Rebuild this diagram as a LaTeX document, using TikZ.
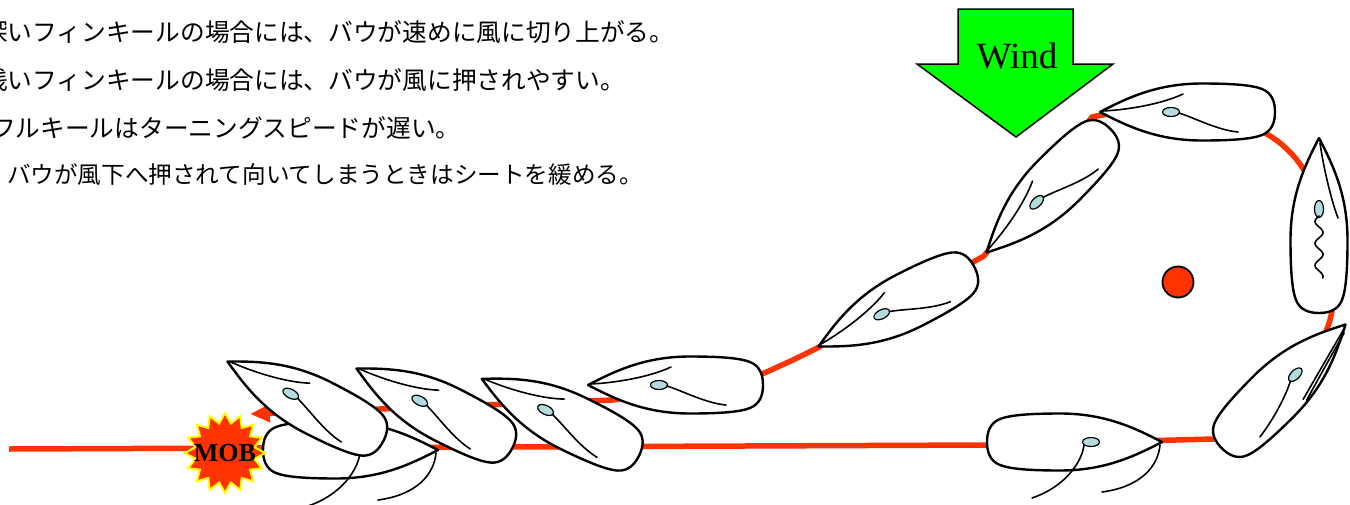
\documentclass[tikz,border=0pt]{standalone}
\usepackage{fontspec}
\setmainfont{Liberation Serif}
\newfontfamily\jpfont{Noto Sans CJK JP}
\usepackage{xcolor}
\definecolor{MBred}{HTML}{FF3300}
\definecolor{MBgreen}{HTML}{00FF00}
\definecolor{MBmast}{HTML}{B4DCE0}
\definecolor{MByellow}{HTML}{FFFF00}
\usetikzlibrary{arrows.meta, shapes.geometric}

% sail trims, in the boat's own frame (bow at +x)
\newcommand\sailclose{%
  \path[sheet] (8,-1) .. controls (-8,-6) and (-30,-18) .. (-51,-20);
  \path[sheet] (85,1) .. controls (60,2) and (25,8) .. (4,18);}
\newcommand\sailrun{%
  \path[sheet] (9,3) .. controls (7,20) and (-10,45) .. (-43,56);
  \path[sheet] (85,3) .. controls (83,25) and (65,45) .. (27,50);}
\newcommand\sailreach{%
  \path[sheet] (8,1) .. controls (-5,8) and (-30,16) .. (-53,19);
  \path[sheet] (83,2) .. controls (60,8) and (30,16) .. (4,23);
  \path[sheet] (80,5) .. controls (58,11) and (30,19) .. (6,26);}
\newcommand\sailluff{%
  \path[sheet] plot[domain=0:62, samples=60, smooth] ({9-\x},{-4*sin(\x*16.4)});
  \path[sheet] (82,1) .. controls (60,4) and (25,12) .. (7,19);}

\begin{document}
\begin{tikzpicture}[
  x=1pt, y=-1pt,
  note/.style={font=\jpfont\fontsize{24.7}{28}\selectfont, inner sep=0pt, anchor=west},
  hull/.style={draw=black, fill=white, line width=2.4pt, line join=round},
  sheet/.style={draw=black, line width=1.6pt, line cap=round},
  mast/.style={draw=black, fill=MBmast, line width=1.2pt},
  track/.style={draw=MBred, line width=5.5pt, line join=round},
  mob/.style={star, star points=16, star point ratio=1.33, minimum size=80pt,
    fill=MBred, draw=MByellow, line width=2pt, inner sep=0pt},
  % hull with bow at +x, stern at -x
  pics/boat/.style={code={
    \path[hull] (87,0) .. controls (60,14) and (30,28.5) .. (-15,28.5)
      .. controls (-45,28.5) and (-65,27) .. (-75,23)
      .. controls (-85,19) and (-88,10) .. (-88,0)
      .. controls (-88,-10) and (-85,-19) .. (-75,-23)
      .. controls (-65,-27) and (-45,-28.5) .. (-15,-28.5)
      .. controls (30,-28.5) and (60,-14) .. (87,0) -- cycle;
    \path[mast] (16,0) ellipse [x radius=8.5, y radius=4.5];
    \csname sail#1\endcsname
  }},
]
\useasboundingbox (0,0) rectangle (1350,504);

% notes
\node[note] (l1) at (-17,32.5) {深いフィンキールの場合には、バウが速めに風に切り上がる。};
\node[note] (l2) at (-17,80) {浅いフィンキールの場合には、バウが風に押されやすい。};
\node[note] (l3) at (-9,127.5) {フルキールはターニングスピードが遅い。};
\node[note, font=\jpfont\fontsize{23.6}{28}\selectfont] (l4) at (7,174)
  {バウが風下へ押されて向いてしまうときはシートを緩める。};

% wind
\path[draw=black, fill=MBgreen, line width=1.5pt, line join=miter]
  (958,9) -- (1073,9) -- (1073,64) -- (1113,64) -- (1016,137)
  -- (917,64) -- (958,64) -- cycle;
\node[font=\fontsize{37}{40}\selectfont, inner sep=0pt] (wind) at (1017,56) {Wind};

% track of the boat
\draw[track, -{Triangle[length=20pt, width=17pt]}]
  (9,449) -- (988,445) -- (1213,439)
  .. controls (1255,432) and (1310,385) .. (1330,320)
  .. controls (1345,260) and (1325,200) .. (1302,167)
  .. controls (1292,152) and (1278,140) .. (1265,133)
  .. controls (1220,108) and (1130,108) .. (1092,117)
  -- (984,256) -- (819,347)
  .. controls (800,357) and (780,366) .. (762,374)
  -- (613,400) -- (250,414);

\node[circle, fill=MBred, draw=black, line width=1.8pt, minimum size=31pt, inner sep=0pt]
  (mark) at (1178,282) {};

% boats
\pic[rotate=0] at (351,450) {boat=run};
\pic[rotate=153] at (305,401) {boat=close};
\pic[rotate=153] at (434,408) {boat=close};
\pic[rotate=154] at (560,417) {boat=close};
\pic[rotate=180] at (675,385) {boat=close};
\pic[rotate=207] at (896,307) {boat=close};
\pic[rotate=225] at (1048,191) {boat=close};
\pic[rotate=180] at (1187,112) {boat=close};
\pic[rotate=90] at (1319,225) {boat=luff};
\pic[rotate=45] at (1284,386) {boat=reach};
\pic[rotate=0] at (1075,442) {boat=run};

% man over board
\node[mob] (mob) at (225,453) {};
\node[font=\bfseries\fontsize{26}{28}\selectfont, inner sep=0pt] at (mob) {MOB};

\end{tikzpicture}
\end{document}
